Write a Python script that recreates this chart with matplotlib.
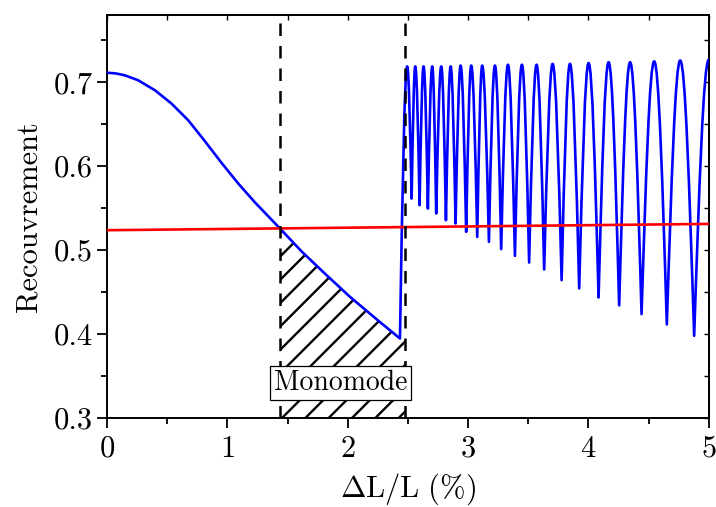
import numpy as np
import matplotlib
matplotlib.use("Agg")
import matplotlib.pyplot as plt
from matplotlib.path import Path
from matplotlib.patches import PathPatch

# dpi choisi pour que l'espacement des hachures colle à la figure d'origine
DPI = 140
k = 100.0 / DPI  # tailles exprimées pour 100 dpi

plt.rcParams['font.family'] = ['cmr10', 'DejaVu Serif']
plt.rcParams['mathtext.fontset'] = 'cm'
plt.rcParams['axes.unicode_minus'] = False
plt.rcParams['axes.formatter.use_mathtext'] = True
plt.rcParams['hatch.linewidth'] = 1.7 * k

# régime monomode : courbe
mono_x = [0.0, 0.075, 0.150, 0.260, 0.399, 0.537, 0.675, 0.814, 0.952, 1.091,
          1.229, 1.437, 1.617, 1.811, 2.018, 2.254, 2.434]
mono_y = [0.7115, 0.7106, 0.7083, 0.7024, 0.6905, 0.6746, 0.6548, 0.6298, 0.6040, 0.5794,
          0.5570, 0.5259, 0.4985, 0.4720, 0.4445, 0.4160, 0.3948]

# régime multimode : extrema des oscillations
peak_x = [2.494, 2.561, 2.630, 2.702, 2.777, 2.855, 2.938, 3.026, 3.117, 3.223,
          3.331, 3.447, 3.569, 3.702, 3.846, 4.001, 4.167, 4.346, 4.546, 4.762, 5.0]
peak_y = [0.719, 0.719, 0.719, 0.719, 0.719, 0.719, 0.720, 0.720, 0.720, 0.720,
          0.721, 0.721, 0.721, 0.722, 0.722, 0.723, 0.724, 0.724, 0.725, 0.726, 0.727]
trough_x = [2.531, 2.597, 2.666, 2.735, 2.816, 2.896, 2.984, 3.076, 3.173, 3.275,
            3.389, 3.507, 3.632, 3.777, 3.923, 4.084, 4.255, 4.441, 4.651, 4.878]
trough_y = [0.5615, 0.5536, 0.5496, 0.5437, 0.5357, 0.5318, 0.5218, 0.5158, 0.5099, 0.5012,
            0.4932, 0.4853, 0.4770, 0.4643, 0.4544, 0.4437, 0.4342, 0.4238, 0.4115, 0.3980]

red_x = [0.0, 5.0]
red_y = [0.5238, 0.5313]

mono_bounds = [1.437, 2.475]

fig = plt.figure(figsize=(716 / DPI, 507 / DPI), dpi=DPI)
ax = fig.add_axes([0.1494, 0.1755, 0.8406, 0.7945])

# chemin : segments droits dans le monomode puis arcs de Bézier entre extrema
verts = [(mono_x[0], mono_y[0])]
codes = [Path.MOVETO]
for x, y in zip(mono_x[1:], mono_y[1:]):
    verts.append((x, y))
    codes.append(Path.LINETO)
ext = []
for i in range(len(peak_x)):
    ext.append((peak_x[i], peak_y[i]))
    if i < len(trough_x):
        ext.append((trough_x[i], trough_y[i]))
prev = (mono_x[-1], mono_y[-1])
for pt in ext:
    xa, ya = prev
    xb, yb = pt
    dx, dy = xb - xa, yb - ya
    if dy > 0:
        c1 = (xa + 0.334 * dx, ya + 0.525 * dy)
        c2 = (xa + 0.638 * dx, yb)
    else:
        c1 = (xa + 0.362 * dx, ya)
        c2 = (xa + 0.666 * dx, ya + 0.475 * dy)
    verts += [c1, c2, pt]
    codes += [Path.CURVE4] * 3
    prev = pt
ax.add_patch(PathPatch(Path(verts, codes), facecolor='none', edgecolor='#0000ff',
                       lw=1.9 * k, zorder=3, capstyle='butt', joinstyle='round'))

# zone hachurée sous la courbe monomode
fx = [x for x in mono_x if x >= mono_bounds[0] - 1e-9] + [mono_bounds[1]]
fy = [y for x, y in zip(mono_x, mono_y) if x >= mono_bounds[0] - 1e-9] + [mono_y[-1]]
ax.fill_between(fx, 0.3, fy, facecolor='none', edgecolor='black', hatch='//',
                linewidth=0, zorder=2)

ax.plot(red_x, red_y, color='#ff0000', lw=1.9 * k, zorder=4)
for xb in mono_bounds:
    ax.axvline(xb, color='black', lw=1.8 * k, dashes=(5, 4), zorder=5)

ax.text(1.942, 0.342, 'Monomode', fontsize=20 * k, ha='center', va='center', zorder=6,
        bbox=dict(boxstyle='square,pad=0.14', facecolor='white', edgecolor='black', lw=0.9 * k))

ax.set_xlim(0, 5)
ax.set_ylim(0.3, 0.78)
ax.set_xticks([0, 1, 2, 3, 4, 5])
ax.set_xticks(np.arange(0.5, 5, 1.0), minor=True)
ax.set_yticks([0.3, 0.4, 0.5, 0.6, 0.7])
ax.set_yticks([0.35, 0.45, 0.55, 0.65, 0.75], minor=True)
ax.set_yticklabels(['0.3', '0.4', '0.5', '0.6', '0.7'])
ax.tick_params(which='major', direction='out', length=7.5 * k, width=1.3 * k,
               labelsize=22 * k, pad=3 * k)
ax.tick_params(which='minor', direction='out', length=4 * k, width=1.3 * k)
ax.tick_params(axis='x', pad=5 * k)

for s in ax.spines.values():
    s.set_linewidth(1.4 * k)

top = ax.secondary_xaxis('top')
top.set_xticks(np.arange(0, 5.01, 0.5))
top.tick_params(direction='in', length=3.5 * k, width=1.0 * k, labeltop=False)
top.set_xticklabels([])
top.spines['top'].set_linewidth(1.4 * k)
right = ax.secondary_yaxis('right')
right.set_yticks(np.arange(0.3, 0.781, 0.05))
right.tick_params(direction='in', length=3.5 * k, width=1.0 * k, labelright=False)
right.set_yticklabels([])
right.spines['right'].set_linewidth(1.4 * k)

ax.set_xlabel(r'$\Delta\mathrm{L/L}\ (\%)$', fontsize=22 * k, labelpad=6 * k)
ax.set_ylabel('Recouvrement', fontsize=22 * k, labelpad=8 * k)

fig.savefig('out.png', dpi=DPI)
